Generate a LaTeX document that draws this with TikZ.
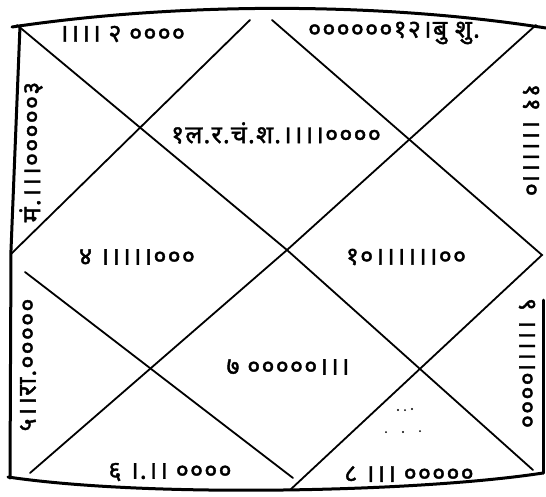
\documentclass[tikz,border=0pt]{standalone}
\usepackage{fontspec}
\newfontfamily\dev[Script=Devanagari,FakeBold=1.6,LetterSpace=5]{Noto Sans}
\begin{document}
\begin{tikzpicture}[x=1pt,y=-1pt,
  frame/.style={line width=3pt, line cap=round},
  grid/.style={line width=1.8pt, line cap=round},
  lbl/.style={font=\dev\fontsize{25}{25}\selectfont, inner sep=0pt, anchor=center}]
\useasboundingbox (0,0) rectangle (546,496);
\fill[white] (0,0) rectangle (546,496);
% chart points
\coordinate (tl) at (17,25);
\coordinate (tr) at (536,25);
\coordinate (br) at (533,470);
\coordinate (bl) at (30,473);
\coordinate (c) at (287,250);
\coordinate (tA) at (250,20);
\coordinate (tB) at (272,20);
\coordinate (lA) at (11,254);
\coordinate (lB) at (25,272);
\coordinate (r) at (542,255);
\coordinate (bA) at (293,478);
\coordinate (bB) at (290,490);
% inner lines
\draw[grid] (tl) -- (c) -- (br);
\draw[grid] (tr) -- (c) -- (bl);
\draw[grid] (lA) -- (tA);
\draw[grid] (tB) -- (r) -- (bB);
\draw[grid] (lB) -- (bA);
% frame
\coordinate (f1) at (12,27);
\coordinate (f2) at (546,28);
\coordinate (f3) at (8,477);
\coordinate (f4) at (543,473);
\draw[frame] (f1) .. controls (180,2) and (380,2) .. (f2);
\draw[frame] (20,26) -- (11,250) -- (10,478);
\draw[frame] (f3) .. controls (150,498) and (420,492) .. (f4);
\draw[frame] (543,300) -- (f4);
% texts
\node[lbl] (h1) at (276,133) {१ल.र.चं.श.।।।।००००};
\node[lbl] (h2) at (122,34) {।।।। २ ००००};
\node[lbl] (h12) at (394,33) {००००००१२।बु शु.};
\node[lbl] (h4) at (137,257) {४ ।।।।।०००};
\node[lbl] (h10) at (406,257) {१०।।।।।।००};
\node[lbl] (h7) at (288,367) {७ ०००००।।।};
\node[lbl] (h6) at (170,472) {६ ।.।। ००००};
\node[lbl] (h8) at (409,474) {८ ।।। ०००००};
\node[lbl,rotate=90] (h3) at (31,152) {मं.।।।०००००३};
\node[lbl,rotate=90] (h5) at (28,365) {५।।रा.०००००};
\node[lbl,rotate=-90] (h11) at (531,140) {११ ।।।।।।०};
\node[lbl,rotate=-90] (h9) at (527,363) {९ ।।।।।००००};
% specks
\fill (398,410) circle (1.2pt) (405,410) circle (1pt) (412,409) circle (1.2pt);
\fill (386,432) circle (1pt) (403,432) circle (1.2pt) (420,431) circle (1pt);
\end{tikzpicture}
\end{document}
